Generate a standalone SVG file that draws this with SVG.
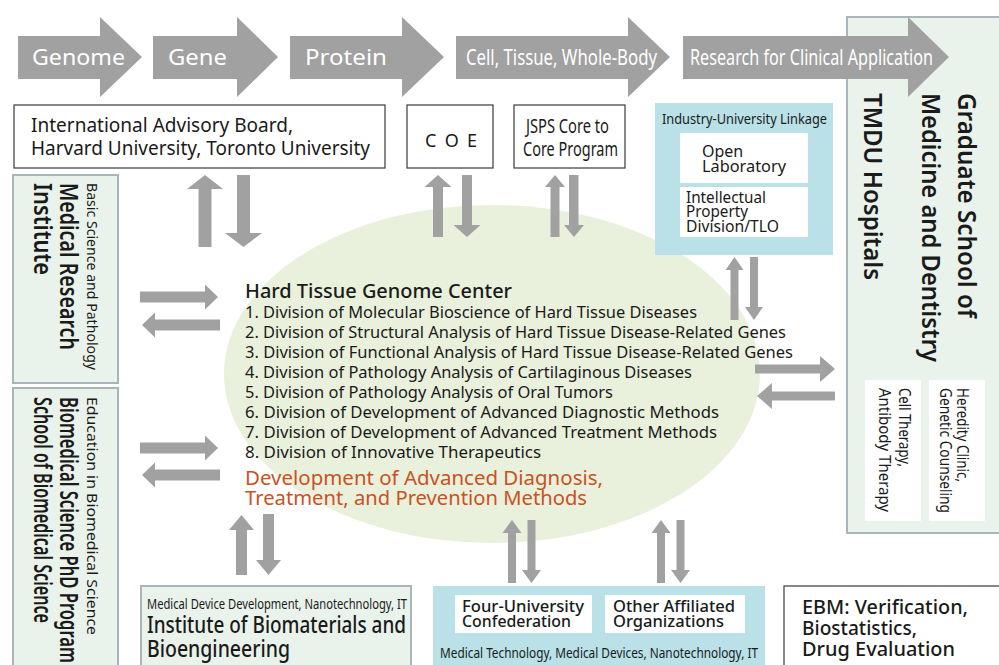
<svg xmlns="http://www.w3.org/2000/svg" width="999" height="665" viewBox="0 0 999 665">
<style>
.t{font-family:"Noto Sans","Open Sans","Liberation Sans",sans-serif;fill:#1a1a1a}
.w{fill:#fff}
.arr{fill:#a1a1a1}
.flow{fill:#a1a1a1}
.green{fill:#eaf3eb;stroke:#a9b5b9;stroke-width:2}
.box{fill:#fff;stroke:#3a3a3a;stroke-width:1.2}
.blue{fill:#b9e1e7}
.wb{fill:#fff}
.or{fill:#c9521f}
</style>
<rect width="999" height="665" fill="#fff"/>

<ellipse id="center-bg" cx="492" cy="374" rx="268" ry="169" fill="#e9f1dc"/>

<g id="grad-school">
<rect class="green" x="847" y="17" width="160" height="516"/>
<text class="t" font-size="25" font-weight="600" transform="translate(958,93) rotate(90)" textLength="225" lengthAdjust="spacingAndGlyphs">Graduate School of</text>
<text class="t" font-size="25" font-weight="600" transform="translate(922,93) rotate(90)" textLength="269" lengthAdjust="spacingAndGlyphs">Medicine and Dentistry</text>
<text class="t" font-size="25" font-weight="600" transform="translate(864,93) rotate(90)" textLength="187" lengthAdjust="spacingAndGlyphs">TMDU Hospitals</text>
<rect class="wb" x="865" y="380" width="56" height="141"/>
<text class="t" font-size="16" transform="translate(899,388) rotate(90)" textLength="79" lengthAdjust="spacingAndGlyphs">Cell Therapy,</text>
<text class="t" font-size="16" transform="translate(879,388) rotate(90)" textLength="124" lengthAdjust="spacingAndGlyphs">Antibody Therapy</text>
<rect class="wb" x="929" y="380" width="56" height="141"/>
<text class="t" font-size="16" transform="translate(957,388) rotate(90)" textLength="94" lengthAdjust="spacingAndGlyphs">Heredity Clinic,</text>
<text class="t" font-size="16" transform="translate(940,388) rotate(90)" textLength="125" lengthAdjust="spacingAndGlyphs">Genetic Counseling</text>
</g>

<g id="flow">
<polygon class="flow" points="18,36 100,36 100,17 142,57 100,97 100,79 18,79"/>
<text class="t w" font-size="21" x="32" y="65" textLength="93" lengthAdjust="spacingAndGlyphs">Genome</text>
<polygon class="flow" points="153,36 237,36 237,17 278,57 237,97 237,79 153,79"/>
<text class="t w" font-size="21" x="168" y="65" textLength="59" lengthAdjust="spacingAndGlyphs">Gene</text>
<polygon class="flow" points="290,36 402,36 402,17 444,57 402,97 402,79 290,79"/>
<text class="t w" font-size="21" x="305" y="65" textLength="82" lengthAdjust="spacingAndGlyphs">Protein</text>
<polygon class="flow" points="456,36 628,36 628,17 670,57 628,97 628,79 456,79"/>
<text class="t w" font-size="21" x="466" y="65" textLength="191" lengthAdjust="spacingAndGlyphs">Cell, Tissue, Whole-Body</text>
<polygon class="flow" points="683,36 908,36 908,17 949,57 908,97 908,79 683,79"/>
<text class="t w" font-size="21" x="690" y="65" textLength="243" lengthAdjust="spacingAndGlyphs">Research for Clinical Application</text>
</g>

<g id="advisory">
<rect class="box" x="14" y="105" width="371" height="63"/>
<text class="t" font-size="19" x="31" y="132" textLength="262" lengthAdjust="spacingAndGlyphs">International Advisory Board,</text>
<text class="t" font-size="19" x="31" y="155" textLength="339" lengthAdjust="spacingAndGlyphs">Harvard University, Toronto University</text>
</g>

<g id="coe">
<rect class="box" x="407" y="105" width="86" height="63"/>
<text class="t" font-size="18" x="425" y="147" textLength="52" lengthAdjust="spacing">C O E</text>
</g>

<g id="jsps">
<rect class="box" x="514" y="105" width="111" height="63"/>
<text class="t" font-size="19" x="526" y="133" textLength="83" lengthAdjust="spacingAndGlyphs">JSPS Core to</text>
<text class="t" font-size="19" x="523" y="156" textLength="95" lengthAdjust="spacingAndGlyphs">Core Program</text>
</g>

<g id="industry">
<rect class="blue" x="655" y="103" width="178" height="152"/>
<text class="t" font-size="15" x="662" y="124" textLength="165" lengthAdjust="spacingAndGlyphs">Industry-University Linkage</text>
<rect class="wb" x="680" y="133" width="128" height="50"/>
<text class="t" font-size="16" x="702" y="157">Open</text>
<text class="t" font-size="16" x="702" y="172" textLength="84" lengthAdjust="spacingAndGlyphs">Laboratory</text>
<rect class="wb" x="680" y="187" width="128" height="50"/>
<text class="t" font-size="16" x="686" y="203" textLength="80" lengthAdjust="spacingAndGlyphs">Intellectual</text>
<text class="t" font-size="16" x="686" y="217" textLength="62" lengthAdjust="spacingAndGlyphs">Property</text>
<text class="t" font-size="16" x="686" y="232" textLength="93" lengthAdjust="spacingAndGlyphs">Division/TLO</text>
</g>

<g id="medical-research">
<rect class="green" x="13" y="175" width="105" height="208"/>
<text class="t" font-size="15" transform="translate(87,183) rotate(90)" textLength="187" lengthAdjust="spacingAndGlyphs">Basic Science and Pathology</text>
<text class="t" font-size="25" font-weight="600" transform="translate(60,183) rotate(90)" textLength="167" lengthAdjust="spacingAndGlyphs">Medical Research</text>
<text class="t" font-size="25" font-weight="600" transform="translate(34,183) rotate(90)" textLength="92" lengthAdjust="spacingAndGlyphs">Institute</text>
</g>

<g id="biomedical">
<rect class="green" x="13" y="388" width="105" height="290"/>
<text class="t" font-size="15" transform="translate(87,397) rotate(90)" textLength="238" lengthAdjust="spacingAndGlyphs">Education in Biomedical Science</text>
<text class="t" font-size="25" font-weight="600" transform="translate(60,397) rotate(90)" textLength="266" lengthAdjust="spacingAndGlyphs">Biomedical Science PhD Program</text>
<text class="t" font-size="25" font-weight="600" transform="translate(34,397) rotate(90)" textLength="226" lengthAdjust="spacingAndGlyphs">School of Biomedical Science</text>
</g>

<g id="hard-tissue">
<text class="t" font-size="19" font-weight="500" x="245" y="298" textLength="267" lengthAdjust="spacingAndGlyphs">Hard Tissue Genome Center</text>
<text class="t" font-size="16" x="245" y="318" textLength="452" lengthAdjust="spacingAndGlyphs">1. Division of Molecular Bioscience of Hard Tissue Diseases</text>
<text class="t" font-size="16" x="245" y="338" textLength="541" lengthAdjust="spacingAndGlyphs">2. Division of Structural Analysis of Hard Tissue Disease-Related Genes</text>
<text class="t" font-size="16" x="245" y="358" textLength="548" lengthAdjust="spacingAndGlyphs">3. Division of Functional Analysis of Hard Tissue Disease-Related Genes</text>
<text class="t" font-size="16" x="245" y="378" textLength="447" lengthAdjust="spacingAndGlyphs">4. Division of Pathology Analysis of Cartilaginous Diseases</text>
<text class="t" font-size="16" x="245" y="398" textLength="368" lengthAdjust="spacingAndGlyphs">5. Division of Pathology Analysis of Oral Tumors</text>
<text class="t" font-size="16" x="245" y="418" textLength="474" lengthAdjust="spacingAndGlyphs">6. Division of Development of Advanced Diagnostic Methods</text>
<text class="t" font-size="16" x="245" y="438" textLength="472" lengthAdjust="spacingAndGlyphs">7. Division of Development of Advanced Treatment Methods</text>
<text class="t" font-size="16" x="245" y="458" textLength="296" lengthAdjust="spacingAndGlyphs">8. Division of Innovative Therapeutics</text>
<text class="t or" font-size="19" x="245" y="485" textLength="358" lengthAdjust="spacingAndGlyphs">Development of Advanced Diagnosis,</text>
<text class="t or" font-size="19" x="245" y="505" textLength="342" lengthAdjust="spacingAndGlyphs">Treatment, and Prevention Methods</text>
</g>

<g id="biomaterials">
<rect class="green" x="141" y="586" width="270" height="90"/>
<text class="t" font-size="14" x="147" y="609" textLength="260" lengthAdjust="spacingAndGlyphs">Medical Device Development, Nanotechnology, IT</text>
<text class="t" font-size="23" font-weight="500" x="147" y="633" textLength="259" lengthAdjust="spacingAndGlyphs">Institute of Biomaterials and</text>
<text class="t" font-size="23" font-weight="500" x="147" y="657" textLength="143" lengthAdjust="spacingAndGlyphs">Bioengineering</text>
</g>

<g id="confederation">
<rect class="blue" x="433" y="586" width="332" height="90"/>
<rect class="wb" x="455" y="595" width="137" height="38"/>
<text class="t" font-size="16" font-weight="500" x="462" y="612" textLength="122" lengthAdjust="spacingAndGlyphs">Four-University</text>
<text class="t" font-size="16" font-weight="500" x="462" y="627" textLength="109" lengthAdjust="spacingAndGlyphs">Confederation</text>
<rect class="wb" x="605" y="595" width="140" height="38"/>
<text class="t" font-size="16" font-weight="500" x="613" y="612" textLength="122" lengthAdjust="spacingAndGlyphs">Other Affiliated</text>
<text class="t" font-size="16" font-weight="500" x="613" y="627" textLength="111" lengthAdjust="spacingAndGlyphs">Organizations</text>
<text class="t" font-size="14" x="440" y="658" textLength="318" lengthAdjust="spacingAndGlyphs">Medical Technology, Medical Devices, Nanotechnology, IT</text>
</g>

<g id="ebm">
<rect class="box" x="784" y="586" width="230" height="90"/>
<text class="t" font-size="19" font-weight="500" x="802" y="614" textLength="166" lengthAdjust="spacingAndGlyphs">EBM: Verification,</text>
<text class="t" font-size="19" font-weight="500" x="802" y="635" textLength="115" lengthAdjust="spacingAndGlyphs">Biostatistics,</text>
<text class="t" font-size="19" font-weight="500" x="802" y="656" textLength="153" lengthAdjust="spacingAndGlyphs">Drug Evaluation</text>
</g>

<g id="connectors">
<!-- advisory -->
<polygon class="arr" points="205,175 223,189 211.5,189 211.5,247 198.5,247 198.5,189 187,189"/>
<polygon class="arr" points="237,175 250,175 250,233 262,233 243.5,247 225,233 237,233"/>
<!-- COE -->
<polygon class="arr" points="438,175 451.5,187 443,187 443,237 433,237 433,187 424.5,187"/>
<polygon class="arr" points="462,175 472,175 472,225 480.5,225 467,237 453.5,225 462,225"/>
<!-- JSPS -->
<polygon class="arr" points="555,175 565,187 559.5,187 559.5,237 550.5,237 550.5,187 545,187"/>
<polygon class="arr" points="569,175 578.5,175 578.5,225 584,225 574,237 564,225 569,225"/>
<!-- Industry -->
<polygon class="arr" points="734.5,257 743.5,270 738.5,270 738.5,320 730.5,320 730.5,270 725.5,270"/>
<polygon class="arr" points="750,257 758,257 758,307 763,307 754,320 745,307 750,307"/>
<!-- right horizontal -->
<polygon class="arr" points="755,364.5 820,364.5 820,356 835,369 820,382 820,373.5 755,373.5"/>
<polygon class="arr" points="835,391.5 772,391.5 772,383 757,396 772,409 772,400.5 835,400.5"/>
<!-- left horizontal 1 -->
<polygon class="arr" points="140,291.5 205,291.5 205,284.5 218,297 205,309.5 205,302.5 140,302.5"/>
<polygon class="arr" points="220,319.5 155,319.5 155,312.5 142,325 155,337.5 155,330.5 220,330.5"/>
<!-- left horizontal 2 -->
<polygon class="arr" points="140,442.5 205,442.5 205,435.5 218,448 205,460.5 205,453.5 140,453.5"/>
<polygon class="arr" points="220,469.5 155,469.5 155,462.5 142,475 155,487.5 155,480.5 220,480.5"/>
<!-- bottom left -->
<polygon class="arr" points="241.5,515 254,530 247,530 247,575 236,575 236,530 229,530"/>
<polygon class="arr" points="263,514 274,514 274,560 281,560 268.5,575 256,560 263,560"/>
<!-- bottom middle 1 -->
<polygon class="arr" points="512,520 521.5,533 516,533 516,583 508,583 508,533 502.5,533"/>
<polygon class="arr" points="527.5,520 535.5,520 535.5,570 541,570 531.5,583 522,570 527.5,570"/>
<!-- bottom middle 2 -->
<polygon class="arr" points="661,520 670.5,533 665,533 665,583 657,583 657,533 651.5,533"/>
<polygon class="arr" points="676.5,520 684.5,520 684.5,570 690,570 680.5,583 671,570 676.5,570"/>
</g>
</svg>
